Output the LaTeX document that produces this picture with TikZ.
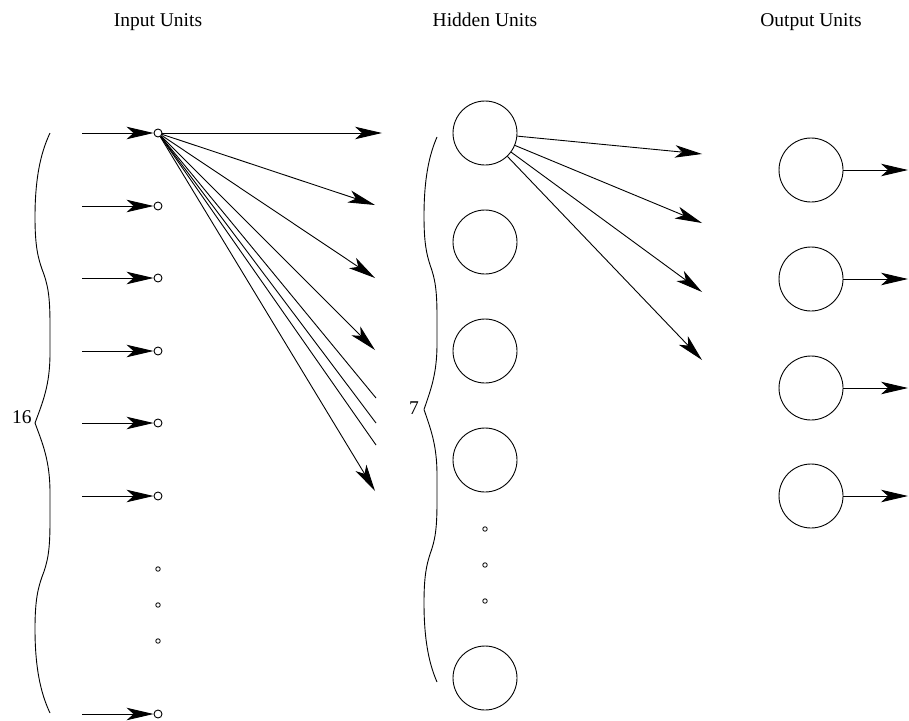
\documentclass[tikz,border=0pt]{standalone}
\usepackage{fontspec}
\setmainfont{Liberation Serif}
\usetikzlibrary{arrows.meta}

\tikzset{
  unit/.style={circle, draw, line width=0.9pt, minimum size=64pt, inner sep=0pt},
  inunit/.style={circle, draw, line width=0.9pt, minimum size=8pt, inner sep=0pt},
  gapdot/.style={circle, draw, line width=0.8pt, minimum size=4.5pt, inner sep=0pt},
  link/.style={line width=0.9pt, -{Stealth[length=27pt,width=12.5pt,inset=7pt]}},
  plainlink/.style={line width=0.9pt},
  lbl/.style={font=\fontsize{19.5}{23}\selectfont, inner sep=0pt},
  bracepath/.style={line width=0.9pt},
}

% one half of a tall curly brace, in a unit box: end at (1,0), tip at (0,1)
\newcommand\halfbrace[4]{%
  \begin{scope}[shift={(#1,#2)}, x=#3, y=#4]
    \draw[bracepath] (1,0) .. controls (0.55,0.05) and (0,0.13) .. (0,0.29)
      .. controls (0,0.39) and (0.2,0.43) .. (0.47,0.47)
      .. controls (0.85,0.52) and (1,0.56) .. (1,0.66)
      -- (1,0.76) .. controls (1,0.87) and (0.5,0.93) .. (0,1);
  \end{scope}}

\begin{document}
\begin{tikzpicture}[x=1pt, y=-1pt]
\useasboundingbox (0,0) rectangle (909,720);

% column titles, sharing one baseline
\node[lbl, anchor=base] (tin)  at (158,26) {Input Units};
\node[lbl, anchor=base] (thid) at (485,26) {Hidden Units};
\node[lbl, anchor=base] (tout) at (811,26) {Output Units};

% input units
\foreach \i/\y in {1/133, 2/206, 3/278, 4/351, 5/423, 6/496, 16/714} {
  \node[inunit] (in\i) at (158,\y) {};
  \coordinate (src\i) at (82,\y);
  \draw[link] (src\i) -- (in\i);
}
\foreach \i/\y in {1/569, 2/605, 3/641}
  \node[gapdot] (ind\i) at (158,\y) {};

% fan-out of the first input unit
\coordinate (fa1) at (382,133);
\coordinate (fa2) at (375,205);
\coordinate (fa3) at (375,278);
\coordinate (fa4) at (375,350);
\coordinate (fl1) at (376,398);
\coordinate (fl2) at (376,423);
\coordinate (fl3) at (376,445);
\coordinate (fa5) at (375,491);
\foreach \c in {fa1, fa2, fa3, fa4, fa5}
  \draw[link] (in1) -- (\c);
\foreach \c in {fl1, fl2, fl3}
  \draw[plainlink] (in1) -- (\c);

% hidden units
\foreach \i/\y in {1/133, 2/242, 3/351, 4/460, 7/678}
  \node[unit] (h\i) at (485,\y) {};
\foreach \i/\y in {1/529, 2/565, 3/601}
  \node[gapdot] (hd\i) at (485,\y) {};

% fan-out of the first hidden unit
\foreach \i/\y in {1/154, 2/223, 3/292, 4/360} {
  \coordinate (ha\i) at (702,\y);
  \draw[link] (h1) -- (ha\i);
}

% output units
\foreach \i/\y in {1/170, 2/279, 3/388, 4/496} {
  \node[unit] (o\i) at (811,\y) {};
  \coordinate (oe\i) at (908,\y);
  \draw[link] (o\i) -- (oe\i);
}

% braces with unit counts
\halfbrace{35}{133}{15pt}{-290pt}
\halfbrace{35}{713}{15pt}{290pt}
\node[lbl] (n16) at (22,417) {16};

\halfbrace{424}{137}{13pt}{-272.5pt}
\halfbrace{424}{682}{13pt}{272.5pt}
\node[lbl] (n7) at (414,408) {7};
\end{tikzpicture}
\end{document}
